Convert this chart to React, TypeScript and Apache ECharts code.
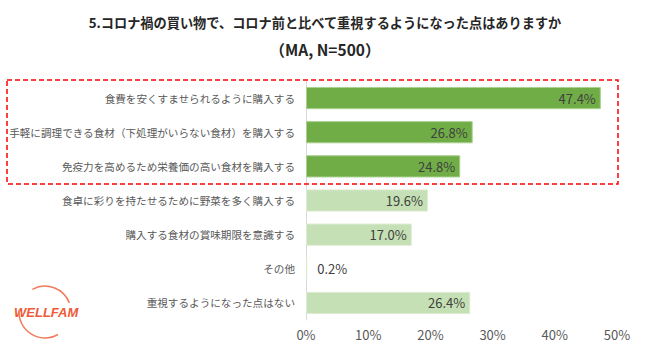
import React, { useEffect, useRef } from "react";
import * as echarts from "echarts";

const categories = [
  "食費を安くすませられるように購入する",
  "手軽に調理できる食材（下処理がいらない食材）を購入する",
  "免疫力を高めるため栄養価の高い食材を購入する",
  "食卓に彩りを持たせるために野菜を多く購入する",
  "購入する食材の賞味期限を意識する",
  "その他",
  "重視するようになった点はない",
];
const values = [47.4, 26.8, 24.8, 19.6, 17.0, 0.2, 26.4];
const highlighted = [true, true, true, false, false, false, false];
const titleLine1 = "5.コロナ禍の買い物で、コロナ前と比べて重視するようになった点はありますか";
const titleLine2 = "（MA, N=500）";

const LOGO_ARC_TOP = "M32.4 289.3 A26 26 0 0 1 69.4 303.1";
const LOGO_ARC_BOTTOM = "M58 334.5 A26 26 0 0 1 19.1 309.7";

export default function App() {
  const ref = useRef<HTMLDivElement>(null);
  useEffect(() => {
    if (!ref.current) return;
    const chart = echarts.init(ref.current, null, { renderer: "svg" });
    const font = "'Noto Sans CJK JP', 'Noto Sans', sans-serif";
    const data = values.map((v, i) => ({
      value: v,
      itemStyle: highlighted[i]
        ? { color: "#70AD47", borderColor: "#A9D18E", borderWidth: 1 }
        : { color: "#C5E0B4", borderColor: "#DCEBD2", borderWidth: 1 },
      label: v < 3 ? { position: "right", distance: 10 } : { position: "insideRight" },
    }));
    chart.setOption({
      animation: false,
      textStyle: { fontFamily: font },
      title: [
        {
          text: titleLine1,
          left: "center",
          top: 11,
          textStyle: { fontSize: 13.2, fontWeight: "bold", color: "#262626", fontFamily: font },
        },
        {
          text: titleLine2,
          left: "center",
          top: 36,
          textStyle: { fontSize: 15.5, fontWeight: "bold", color: "#262626", fontFamily: font },
        },
      ],
      grid: { left: 306, right: 33, top: 81, bottom: 37, outerBoundsMode: "none", containLabel: false },
      xAxis: {
        type: "value",
        min: 0,
        max: 50,
        interval: 10,
        axisLabel: { formatter: "{value}%", color: "#595959", fontSize: 13, margin: 8 },
        splitLine: { show: false },
        axisLine: { show: false },
        axisTick: { show: false },
      },
      yAxis: {
        type: "category",
        inverse: true,
        data: categories,
        axisLine: { show: true, lineStyle: { color: "#D9D9D9", width: 1 } },
        axisTick: { show: false },
        axisLabel: { color: "#595959", fontSize: 10.6, margin: 11 },
      },
      series: [
        {
          type: "bar",
          data,
          barCategoryGap: "35%",
          label: {
            show: true,
            formatter: (p: any) => p.value.toFixed(1) + "%",
            color: "#404040",
            fontSize: 13,
            fontFamily: font,
          },
        },
      ],
      graphic: [
        {
          type: "rect",
          id: "frame",
          shape: { x: 7, y: 80, width: 611, height: 104 },
          style: { fill: "none", stroke: "#FF0000", lineWidth: 1.5, lineDash: [5, 3] },
          z: 10,
        },
        {
          type: "text",
          id: "logoText",
          x: 14,
          y: 306,
          z: 11,
          style: {
            text: "WELLFAM",
            fontSize: 13,
            fontStyle: "italic",
            fontWeight: "bold",
            fill: "#EE5A36",
            fontFamily: "'Liberation Sans', Arial, sans-serif",
          },
        },
      ],
    });
    return () => chart.dispose();
  }, []);
  return (
    <div style={{ width: 650, height: 357, position: "absolute", left: 0, top: 0 }}>
      <div ref={ref} style={{ width: 650, height: 357, position: "absolute", left: 0, top: 0 }} />
      <svg
        width={650}
        height={357}
        style={{ position: "absolute", left: 0, top: 0, pointerEvents: "none" }}
      >
        <path d={LOGO_ARC_TOP} stroke="#F27A5C" strokeWidth={1.5} fill="none" />
        <path d={LOGO_ARC_BOTTOM} stroke="#F27A5C" strokeWidth={1.5} fill="none" />
      </svg>
    </div>
  );
}
